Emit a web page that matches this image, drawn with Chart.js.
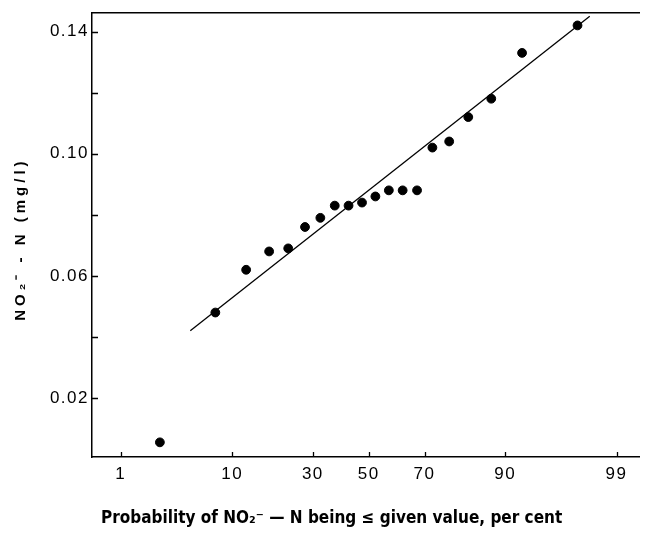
<!DOCTYPE html>
<html>
<head>
<meta charset="utf-8">
<script src="https://cdn.jsdelivr.net/npm/chart.js@4.4.0/dist/chart.umd.min.js"></script>
<style>
  html, body { margin: 0; padding: 0; background: #fff; }
  #chart { display: block; }
</style>
</head>
<body>
<canvas id="chart" width="645" height="535"></canvas>
<script>
(function() {
  'use strict';

  // ---------------------------------------------
  // data (probability in per cent, NO2-N in mg/l)
  // ---------------------------------------------
  const probPct = [2.5, 7.5, 12.5, 17.5, 22.5, 27.5, 32.5, 37.5, 42.5, 47.5,
                   52.5, 57.5, 62.5, 67.5, 72.5, 77.5, 82.5, 87.5, 92.5, 97.5];
  const nitrite = [0.0055, 0.048, 0.062, 0.068, 0.069, 0.076, 0.079, 0.083, 0.083, 0.084,
                   0.086, 0.088, 0.088, 0.088, 0.102, 0.104, 0.112, 0.118, 0.133, 0.142];

  const fitPct = [4.7, 98.1];
  const fitValue = [0.042, 0.145];

  const xTickPct = [1, 10, 30, 50, 70, 90, 99];
  const xRangePct = [0.47, 99.45];
  const yTicks = [0.02, 0.04, 0.06, 0.08, 0.10, 0.12, 0.14];
  const yLabelled = [0.02, 0.06, 0.10, 0.14];
  const yRange = [0.0007, 0.146];

  const xTitle = 'Probability of NO\u2082\u207B \u2014 N being \u2264 given value, per cent';
  const yTitle = 'NO\u2082\u207B - N (mg/l)';

  // inverse normal cdf (Acklam) - the x axis is a normal probability scale
  function probit(p) {
    const a = [-3.969683028665376e+01, 2.209460984245205e+02, -2.759285104469687e+02, 1.383577518672690e+02, -3.066479806614716e+01, 2.506628277459239e+00];
    const b = [-5.447609879822406e+01, 1.615858368580409e+02, -1.556989798598866e+02, 6.680131188771972e+01, -1.328068155288572e+01];
    const c = [-7.784894002430293e-03, -3.223964580411365e-01, -2.400758277161838e+00, -2.549732539343734e+00, 4.374664141464968e+00, 2.938163982698783e+00];
    const d = [7.784695709041462e-03, 3.224671290700398e-01, 2.445134137142996e+00, 3.754408661907416e+00];
    const plow = 0.02425;
    let q, r;
    if (p < plow) {
      q = Math.sqrt(-2 * Math.log(p));
      return (((((c[0]*q+c[1])*q+c[2])*q+c[3])*q+c[4])*q+c[5]) / ((((d[0]*q+d[1])*q+d[2])*q+d[3])*q+1);
    }
    if (p > 1 - plow) {
      q = Math.sqrt(-2 * Math.log(1 - p));
      return -(((((c[0]*q+c[1])*q+c[2])*q+c[3])*q+c[4])*q+c[5]) / ((((d[0]*q+d[1])*q+d[2])*q+d[3])*q+1);
    }
    q = p - 0.5;
    r = q * q;
    return (((((a[0]*r+a[1])*r+a[2])*r+a[3])*r+a[4])*r+a[5])*q / (((((b[0]*r+b[1])*r+b[2])*r+b[3])*r+b[4])*r+1);
  }
  const z = pct => probit(pct / 100);

  const points = probPct.map((p, i) => ({ x: z(p), y: nitrite[i] }));
  const fitLine = fitPct.map((p, i) => ({ x: z(p), y: fitValue[i] }));

  const labelFamily = "'Liberation Sans', Arial, sans-serif";
  const titleFamily = "'Liberation Sans Narrow', 'DejaVu Sans Condensed', 'Liberation Sans', sans-serif";

  // small tick marks pointing into the plot, like the original
  const innerTicks = {
    id: 'innerTicks',
    afterDraw(chart) {
      const { ctx, chartArea: area, scales } = chart;
      ctx.save();
      ctx.strokeStyle = '#000';
      ctx.lineWidth = 1.3;
      ctx.beginPath();
      scales.y.ticks.forEach(t => {
        const py = Math.round(scales.y.getPixelForValue(t.value)) + 0.5;
        ctx.moveTo(area.left, py);
        ctx.lineTo(area.left + 6, py);
      });
      scales.x.ticks.forEach(t => {
        const px = Math.round(scales.x.getPixelForValue(t.value)) + 0.5;
        ctx.moveTo(px, area.bottom);
        ctx.lineTo(px, area.bottom - 5);
      });
      ctx.stroke();
      ctx.restore();
    }
  };

  // spaced-out lettering of the old figure; axis titles drawn by hand
  const lettering = {
    id: 'lettering',
    beforeDraw(chart) {
      chart.ctx.letterSpacing = '1.5px';
    },
    afterDraw(chart) {
      const { ctx, chartArea: area } = chart;
      ctx.save();
      ctx.fillStyle = '#000';
      ctx.textBaseline = 'middle';
      ctx.textAlign = 'center';
      ctx.font = 'bold 15px ' + labelFamily;
      ctx.letterSpacing = '4px';
      ctx.translate(21, (area.top + area.bottom) / 2 + 4);
      ctx.rotate(-Math.PI / 2);
      ctx.fillText(yTitle, 0, 0);
      ctx.restore();

      ctx.save();
      ctx.fillStyle = '#000';
      ctx.textBaseline = 'middle';
      ctx.textAlign = 'left';
      ctx.font = 'bold 17px ' + titleFamily;
      ctx.letterSpacing = '0px';
      ctx.fillText(xTitle, 101, 519);
      ctx.restore();
      ctx.letterSpacing = '0px';
    }
  };

  new Chart(document.getElementById('chart'), {
    type: 'scatter',
    data: {
      datasets: [
        {
          label: 'observed',
          data: points,
          backgroundColor: '#000',
          borderColor: '#000',
          pointRadius: 4.4,
          pointHoverRadius: 4.4,
          showLine: false,
        },
        {
          label: 'fit',
          data: fitLine,
          borderColor: '#000',
          borderWidth: 1.3,
          pointRadius: 0,
          showLine: true,
          fill: false,
        }
      ]
    },
    options: {
      responsive: false,
      animation: false,
      layout: { padding: { top: 12, right: 4, bottom: 0, left: 0 } },
      plugins: {
        legend: { display: false },
        tooltip: { enabled: false },
      },
      scales: {
        x: {
          type: 'linear',
          position: 'bottom',
          min: z(xRangePct[0]),
          max: z(xRangePct[1]),
          afterBuildTicks: function(scale) {
            scale.ticks = xTickPct.map(p => ({ value: z(p) }));
          },
          afterFit: function(scale) { scale.height = 78; },
          grid: { display: false, drawTicks: false },
          border: { display: true, color: '#000', width: 1.5 },
          ticks: {
            color: '#000',
            font: { family: labelFamily, size: 17 },
            padding: 7,
            maxRotation: 0,
            autoSkip: false,
            callback: function(v, i) { return String(xTickPct[i]); }
          },
          title: { display: false }
        },
        xTop: {
          type: 'linear',
          position: 'top',
          min: 0,
          max: 1,
          grid: { display: false, drawTicks: false },
          border: { display: true, color: '#000', width: 1.5 },
          ticks: { display: false },
        },
        y: {
          type: 'linear',
          min: yRange[0],
          max: yRange[1],
          afterBuildTicks: function(scale) {
            scale.ticks = yTicks.map(v => ({ value: v }));
          },
          afterFit: function(scale) { scale.width = 92; },
          grid: { display: false, drawTicks: false },
          border: { display: true, color: '#000', width: 1.5 },
          ticks: {
            color: '#000',
            font: { family: labelFamily, size: 17 },
            padding: 3,
            autoSkip: false,
            callback: function(v) {
              return yLabelled.some(l => Math.abs(l - v) < 1e-9) ? v.toFixed(2) : '';
            }
          },
          title: { display: false }
        }
      }
    },
    plugins: [innerTicks, lettering]
  });
})();
</script>
</body>
</html>
